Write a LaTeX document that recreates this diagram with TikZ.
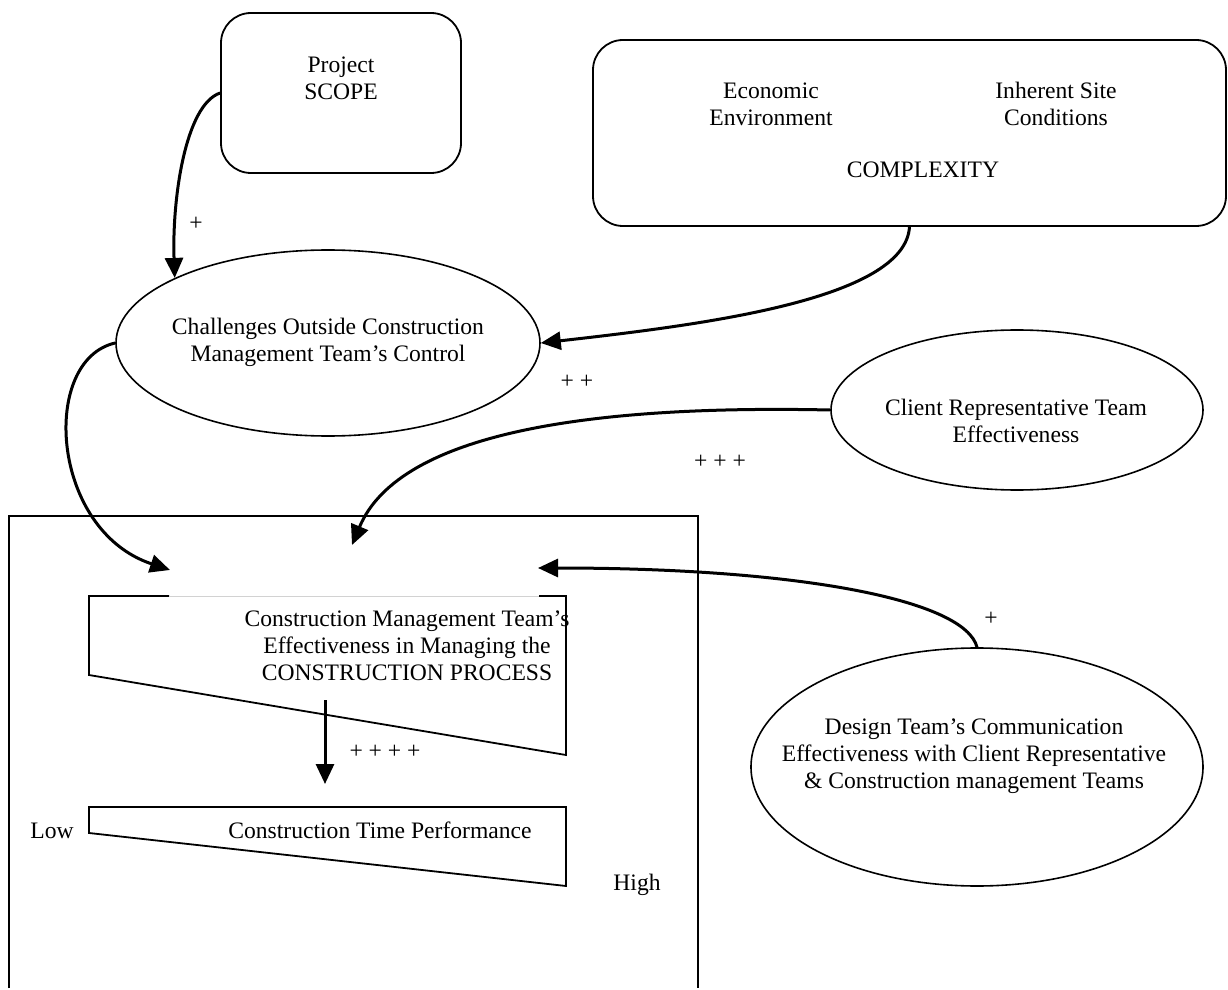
\documentclass[tikz,border=0pt]{standalone}
\usepackage{fontspec}
\setmainfont{Liberation Serif}
\usetikzlibrary{shapes.geometric,arrows.meta}
\begin{document}
\begin{tikzpicture}[x=0.5pt,y=-0.5pt,
  txt/.style={font=\fontsize{11.8}{13.5}\selectfont, align=center, inner sep=0pt},
  rbox/.style={draw, line width=0.9pt, rounded corners=15pt, inner sep=0pt},
  ell/.style={draw, ellipse, line width=0.8pt, inner sep=0pt},
  shapeline/.style={line width=0.9pt},
  arr/.style={line width=1.5pt, -{Triangle[length=10pt,width=9pt]}},
  plus/.style={font=\fontsize{11.8}{13.5}\selectfont, inner sep=0pt}]
\useasboundingbox (0,0) rectangle (1228,990);

% Project scope box
\node[rbox, minimum width=120pt, minimum height=80pt] (scope) at (341,93) {};
\node[txt] (scopetxt) at (341,78) {Project\\SCOPE};

% Complexity box
\node[rbox, minimum width=316.5pt, minimum height=93pt] (cplx) at (909.5,133) {};
\node[txt] (econ) at (771,104) {Economic\\Environment};
\node[txt] (site) at (1056,104) {Inherent Site\\Conditions};
\node[txt] (cplxtxt) at (923,170) {COMPLEXITY};

% Ellipses
\node[ell, minimum width=212pt, minimum height=93pt] (chal) at (328,343) {};
\node[txt] at (328,342) {Challenges Outside Construction\\Management Team’s Control};
\node[ell, minimum width=186pt, minimum height=80pt] (client) at (1017,410) {};
\node[txt] at (1016,421) {Client Representative Team\\Effectiveness};
\node[ell, minimum width=226pt, minimum height=119pt] (design) at (977,767) {};
\node[txt] at (974,756) {Design Team’s Communication\\Effectiveness with Client Representative\\\& Construction management Teams};

% Big frame
\draw[shapeline] (9,988) -- (9,516) -- (698,516) -- (698,988);

% Trapezoid 1
\draw[shapeline] (169,596) -- (89,596) -- (89,675) -- (566,755) -- (566,596) -- (539,596);
\draw[gray!35, line width=0.5pt] (169,596) -- (539,596);
\node[txt] (cmte) at (407,646) {Construction Management Team’s\\Effectiveness in Managing the\\CONSTRUCTION PROCESS};

% Trapezoid 2
\draw[shapeline] (89,833) -- (89,807) -- (566,807) -- (566,886) -- cycle;
\node[txt] (ctp) at (380,830) {Construction Time Performance};
\node[txt] (low) at (52,831) {Low};
\node[txt] (high) at (637,885) {High};

% coordinates for free ends
\coordinate (inL) at (170,570);
\coordinate (inT) at (352,545);
\coordinate (inR) at (538,568);
\coordinate (downS) at (325,700);
\coordinate (downE) at (325,784);

% Connectors
\draw[arr] (scope.west) .. controls (185,105) and (172,200) .. (chal.157);
\draw[arr] (cplx.south) .. controls (905,300) and (700,325) .. (chal.east);
\draw[arr] (chal.west) .. controls (40,360) and (50,530) .. (inL);
\draw[arr] (client.west) .. controls (600,405) and (400,430) .. (inT);
\draw[arr] (design.north) .. controls (965,600) and (800,568) .. (inR);
\draw[arr] (downS) -- (downE);

% Signs
\node[plus] (p1) at (196,224) {+};
\node[plus] (p2) at (577,382) {+ +};
\node[plus] (p3) at (720,462) {+ + +};
\node[plus] (p4) at (991,619) {+};
\node[plus] (p5) at (385,752) {+ + + +};
\end{tikzpicture}
\end{document}
